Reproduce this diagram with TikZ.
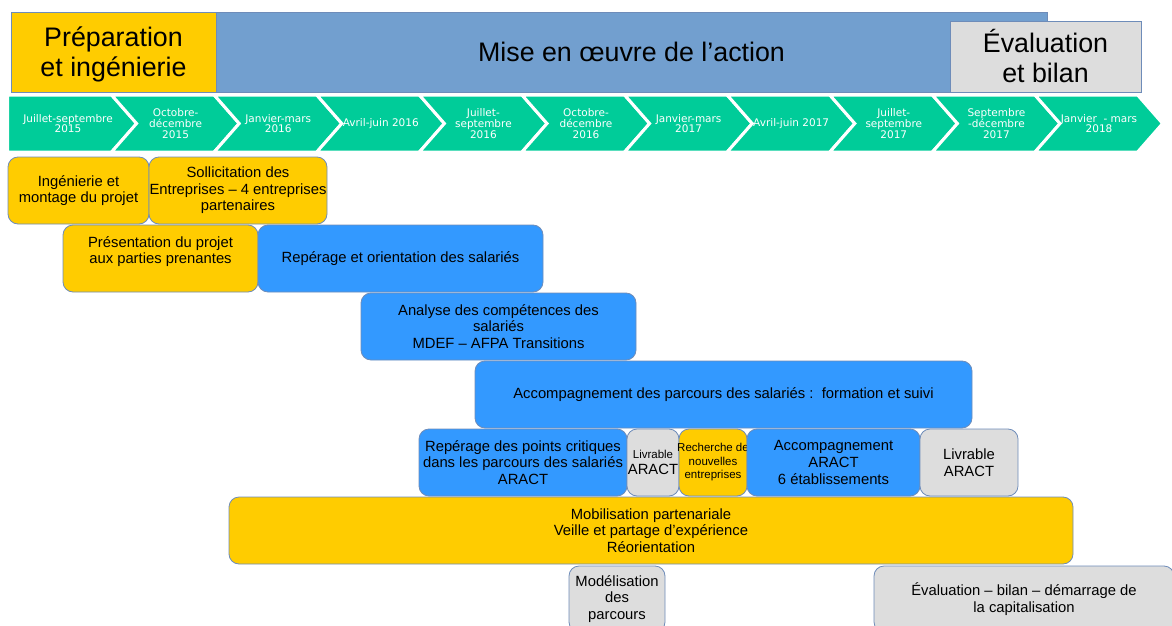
\documentclass[tikz,border=0pt]{standalone}
\usepackage{fontspec}
\setmainfont{Liberation Sans}
\newfontfamily\dejavu{DejaVu Sans}
\usepackage{tikz}
\usetikzlibrary{positioning}
\definecolor{jaune}{RGB}{255,204,0}
\definecolor{bleuvif}{RGB}{51,153,255}
\definecolor{bleuphase}{RGB}{114,159,207}
\definecolor{grisclair}{RGB}{221,221,221}
\definecolor{vert}{RGB}{0,204,153}
\definecolor{bord}{RGB}{110,140,185}
\newcommand{\petit}{\fontsize{11.5}{13.5}\selectfont}

\begin{document}
\begin{tikzpicture}[
  x=1pt, y=-1pt,
  node distance=0pt,
  task/.style={draw=bord, line width=0.8pt, rounded corners=10pt, minimum height=67pt, inner sep=0pt, outer sep=0pt, align=center, font=\fontsize{14.8}{16.6}\selectfont},
  prep/.style={task, fill=jaune},
  action/.style={task, fill=bleuvif},
  bilan/.style={task, fill=grisclair},
  phase/.style={draw=bord, line width=0.8pt, inner sep=0pt, align=center, font=\fontsize{26.8}{30}\selectfont},
  periode/.style={fill=vert, draw=white, line width=3pt},
  periodtext/.style={text=white, align=center, inner sep=0pt, font=\dejavu\fontsize{10.5}{10.8}\selectfont}
]
\useasboundingbox (0,0) rectangle (1172,626);

% phases
\node[phase, fill=bleuphase, minimum width=831pt, minimum height=80pt] (mise) at (631.5,52) {Mise en œuvre de l'action};
\node[phase, fill=jaune, minimum width=205pt, minimum height=80pt, text depth=0pt] (prepa) at (113.5,52) {Préparation\\et ingénierie};
\node[phase, fill=grisclair, minimum width=191pt, minimum height=71pt] (evalua) at (1045.5,56.5) {Évaluation\\et bilan};

% timeline
\path[periode] (7.5,95) -- (111.6,95) -- (136.6,123.5) -- (111.6,152) -- (7.5,152) -- cycle;
\node[periodtext] (t0) at (68,123.5) {Juillet-septembre\\2015};
\foreach \i/\txt in {1/{Octobre-\\décembre\\2015}, 2/{Janvier-mars\\2016}, 3/{Avril-juin 2016},
    4/{Juillet-\\septembre\\2016}, 5/{Octobre-\\décembre\\2016}, 6/{Janvier-mars\\2017},
    7/{Avril-juin 2017}, 8/{Juillet-\\septembre\\2017}, 9/{Septembre\\-décembre\\2017},
    10/{Janvier\ \ - mars\\2018}} {
  \path[periode] ({9+102.6*\i},95) -- ++(102.6,0) -- ++(25,28.5) -- ++(-25,28.5) -- ++(-102.6,0) -- ++(25,-28.5) -- cycle;
  \node[periodtext] (t\i) at ({9+102.6*\i+64},123.5) {\txt};
}

% tasks
\node[prep, minimum width=141pt] (inge) at (78.5,190.5) {Ingénierie et\\montage du projet};
\node[prep, minimum width=178pt, right=of inge] (solli) {Sollicitation des\\Entreprises – 4 entreprises\\partenaires};
\node[prep, minimum width=195pt] (pres) at (160.5,258.5) {Présentation du projet\\aux parties prenantes\\\mbox{}};
\node[action, minimum width=285pt, right=of pres] (repor) {Repérage et orientation des salariés};
\node[action, minimum width=275pt] (analyse) at (498.5,326.5) {Analyse des compétences des\\salariés\\MDEF – AFPA Transitions};
\node[action, minimum width=497pt] (accpar) at (723.5,394.5) {Accompagnement des parcours des salariés :\ \ formation et suivi};
\node[action, minimum width=208pt] (points) at (523,462.5) {Repérage des points critiques\\dans les parcours des salariés\\ARACT};
\node[bilan, minimum width=52pt, right=of points] (livr1) {{\petit Livrable}\\ARACT};
\node[prep, minimum width=68pt, inner xsep=-4pt, right=of livr1, font=\petit] (recherche) {Recherche de\\nouvelles\\entreprises};
\node[action, minimum width=173pt, right=of recherche] (accaract) {Accompagnement\\ARACT\\6 établissements};
\node[bilan, minimum width=98pt, right=of accaract] (livr2) {Livrable\\ARACT};
\node[prep, minimum width=844pt] (mobil) at (651,530.5) {Mobilisation partenariale\\Veille et partage d'expérience\\Réorientation};
\node[bilan, minimum width=96pt, minimum height=66pt] (modele) at (617,599) {Modélisation\\des\\parcours};
\node[bilan, minimum width=300pt, minimum height=66pt] (evalbil) at (1024,599) {Évaluation – bilan – démarrage de\\la capitalisation};
\end{tikzpicture}
\end{document}
